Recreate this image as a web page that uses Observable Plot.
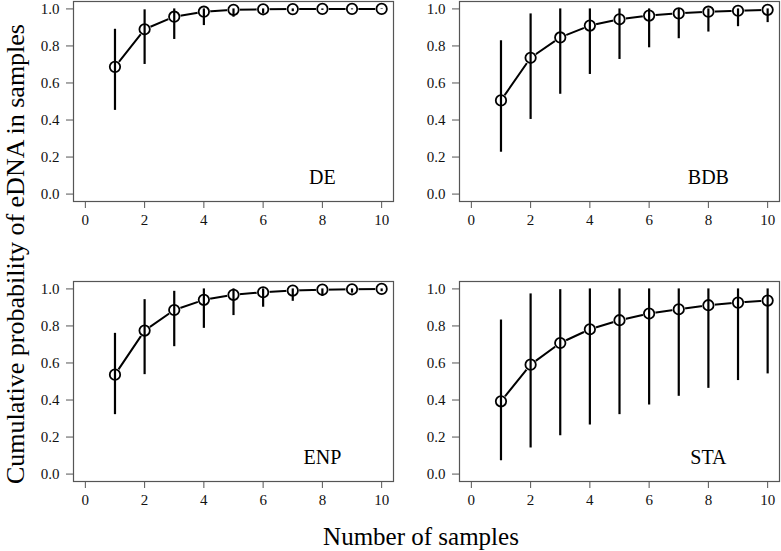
<!DOCTYPE html>
<html><head><meta charset="utf-8">
<script src="https://cdn.jsdelivr.net/npm/d3@7"></script>
<script src="https://cdn.jsdelivr.net/npm/@observablehq/plot@0.6"></script>
<style>
body{margin:0;background:#fff;}
#chart{position:relative;width:781px;height:551px;font-family:"Liberation Serif",serif;color:#000;overflow:hidden;}
.panel{position:absolute;}
.ylab{position:absolute;left:16px;top:254px;transform:translate(-50%,-50%) rotate(-90deg);white-space:nowrap;font-size:26px;}
.xlab{position:absolute;left:421px;top:537px;transform:translate(-50%,-50%);white-space:nowrap;font-size:25px;}
</style>
</head><body>
<div id="chart">
  <div class="ylab">Cumulative probability of eDNA in samples</div>
  <div class="xlab">Number of samples</div>
</div>
<script>
const samples = [1,2,3,4,5,6,7,8,9,10];
const xTicks = [0,2,4,6,8,10];
const yTicks = [0,0.2,0.4,0.6,0.8,1.0];
const panelNames = ["DE","BDB","ENP","STA"];

const deMean  = [0.687,0.890,0.958,0.985,0.995,0.998,0.999,1.000,1.000,1.000];
const deLow   = [0.452,0.700,0.835,0.910,0.955,0.973,0.985,0.992,0.995,0.997];
const deHigh  = [0.890,0.995,1.000,1.000,1.000,1.000,1.000,1.000,1.000,1.000];

const bdbMean = [0.506,0.736,0.846,0.910,0.944,0.964,0.976,0.985,0.990,0.995];
const bdbLow  = [0.226,0.403,0.539,0.646,0.727,0.790,0.839,0.875,0.904,0.926];
const bdbHigh = [0.828,0.973,1.000,1.000,1.000,1.000,1.000,1.000,1.000,1.000];

const enpMean = [0.537,0.775,0.886,0.941,0.968,0.982,0.991,0.996,0.998,1.000];
const enpLow  = [0.321,0.537,0.688,0.787,0.856,0.901,0.933,0.959,0.977,0.985];
const enpHigh = [0.760,0.942,0.987,1.000,1.000,1.000,1.000,1.000,1.000,1.000];

const staMean = [0.393,0.591,0.708,0.782,0.831,0.867,0.890,0.912,0.926,0.937];
const staLow  = [0.072,0.141,0.207,0.265,0.321,0.373,0.420,0.463,0.505,0.541];
const staHigh = [0.832,0.973,0.996,1.000,1.000,1.000,1.000,1.000,1.000,1.000];

const series = [
  {mean: deMean,  low: deLow,  high: deHigh},
  {mean: bdbMean, low: bdbLow, high: bdbHigh},
  {mean: enpMean, low: enpLow, high: enpHigh},
  {mean: staMean, low: staLow, high: staHigh}
];
const positions = [
  {left: 0,   top: 0},
  {left: 386, top: 0},
  {left: 0,   top: 280},
  {left: 386, top: 280}
];

const serif = "Liberation Serif";
const chart = document.getElementById("chart");
panelNames.forEach((name, i) => {
  const s = series[i];
  const rows = samples.map((x, j) => ({x, mean: s.mean[j], low: s.low[j], high: s.high[j]}));
  const p = Plot.plot({
    width: 395,
    height: 231,
    marginLeft: 73,
    marginRight: 2,
    marginTop: 1,
    marginBottom: 30,
    style: {color: "#111", background: "transparent", overflow: "visible"},
    x: {domain: [-0.4, 10.4], label: null},
    y: {domain: [-0.04, 1.04], label: null},
    marks: [
      Plot.frame({stroke: "#555", strokeWidth: 1.2}),
      Plot.axisX({ticks: xTicks, tickSize: 7, tickPadding: 6, tickFormat: d => String(d), label: null, stroke: "#555", fill: "#111", fontSize: 15}),
      Plot.axisY({ticks: yTicks, tickSize: 7, tickPadding: 7, tickFormat: d3.format(".1f"), label: null, stroke: "#555", fill: "#111", fontSize: 15}),
      Plot.line(rows, {x: "x", y: "mean", stroke: "#000", strokeWidth: 2}),
      Plot.dot(rows, {x: "x", y: "mean", r: 6.5, fill: "#fff", stroke: "none"}),
      Plot.ruleX(rows, {x: "x", y1: "low", y2: "high", stroke: "#000", strokeWidth: 2.2}),
      Plot.dot(rows, {x: "x", y: "mean", r: 5.2, fill: "none", stroke: "#000", strokeWidth: 1.8}),
      Plot.text([name], {x: 8, y: 0.09, text: d => d, fontSize: 20, fill: "#000"})
    ]
  });
  p.setAttribute("font-family", serif);
  p.style.fontFamily = serif;
  p.querySelectorAll("g, text").forEach(el => {
    if (el.hasAttribute("font-family")) el.setAttribute("font-family", serif);
  });
  p.querySelectorAll("text").forEach(t => { t.style.fontFamily = serif; });
  p.classList.add("panel");
  p.style.left = positions[i].left + "px";
  p.style.top = positions[i].top + "px";
  chart.appendChild(p);
});
</script>
</body></html>
